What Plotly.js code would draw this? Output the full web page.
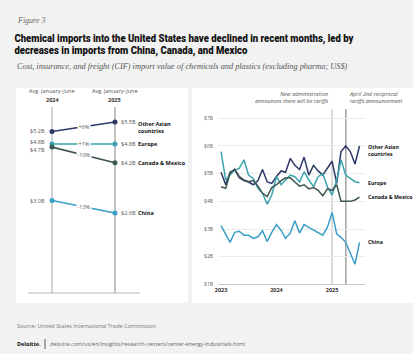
<!DOCTYPE html>
<html>
<head>
<meta charset="utf-8">
<script src="https://cdn.plot.ly/plotly-3.0.1.min.js"></script>
<style>
  html, body { margin: 0; padding: 0; background: #f2f2f2; }
  #chart { width: 413px; height: 354px; }
</style>
</head>
<body>
<div id="chart"></div>
<script>
const W = 413, H = 354;

// Slope chart: average January–June import value (US$ billions)
const regionLabels = ['Other Asian<br>countries', 'Europe', 'Canada &amp; Mexico', 'China'];
const avg2024 = [5.2, 4.8, 4.7, 3.0];
const avg2025 = [5.5, 4.8, 4.2, 2.6];
const changeLabels = ['+6%', '+1%', '-10%', '-13%'];
const periodLabels = ['2024', '2025'];

// Monthly import value (US$ billions), January 2023 – July 2025
const months = [
  '2023-01-01','2023-02-01','2023-03-01','2023-04-01','2023-05-01','2023-06-01',
  '2023-07-01','2023-08-01','2023-09-01','2023-10-01','2023-11-01','2023-12-01',
  '2024-01-01','2024-02-01','2024-03-01','2024-04-01','2024-05-01','2024-06-01',
  '2024-07-01','2024-08-01','2024-09-01','2024-10-01','2024-11-01','2024-12-01',
  '2025-01-01','2025-02-01','2025-03-01','2025-04-01','2025-05-01','2025-06-01',
  '2025-07-01'
];
const otherAsia = [5.05, 4.6, 5.05, 5.15, 4.85, 4.75, 4.7, 4.6, 4.75, 5.15, 4.7, 4.65,
                   4.9, 5.1, 5.05, 5.55, 5.3, 5.15, 5.6, 4.95, 5.3, 5.1, 4.95, 5.2,
                   5.45, 4.65, 5.8, 6.0, 5.8, 5.35, 6.0];
const europe = [5.8, 4.77, 4.95, 5.13, 5.19, 5.5, 4.95, 4.83, 4.47, 4.29, 3.9, 4.23,
                4.89, 4.6, 4.77, 4.95, 4.89, 4.7, 5.07, 4.77, 4.53, 4.89, 5.0, 4.53,
                4.23, 4.77, 5.5, 4.95, 4.83, 4.71, 4.67];
const canadaMexico = [4.53, 4.47, 5.01, 5.16, 4.9, 4.77, 4.71, 4.75, 4.55, 4.3, 4.17, 4.5,
                      4.6, 4.75, 4.85, 4.85, 4.7, 4.55, 4.6, 4.45, 4.5, 4.4, 4.2, 4.45,
                      4.4, 4.6, 4.0, 4.0, 4.0, 4.05, 4.15];
const china = [3.12, 2.82, 2.52, 2.88, 2.92, 2.78, 2.78, 2.66, 2.72, 2.94, 2.55, 2.88,
               3.16, 2.95, 2.67, 2.85, 3.30, 2.86, 3.16, 3.06, 2.96, 2.88, 2.78, 3.06,
               3.60, 2.82, 2.70, 2.52, 2.16, 1.73, 2.52];

const yTickVals = [1, 2, 3, 4, 5, 6, 7];
const yTickText = ['$1B', '$2B', '$3B', '$4B', '$5B', '$6B', '$7B'];
const xTickVals = ['2023-01-01', '2024-01-01', '2025-01-01'];
const xTickText = ['2023', '2024', '2025'];

const events = [
  { date: '2025-01-01', text: 'New administration<br>announces there will be tariffs', side: 'right', color: '#c4c4c4' },
  { date: '2025-04-02', text: 'April 2nd reciprocal<br>tariffs announcement', side: 'left', color: '#8a8a8a' }
];

const titleLines = [
  'Chemical imports into the United States have declined in recent months, led by',
  'decreases in imports from China, Canada, and Mexico'
];

const colors = ['#2c3866', '#3aa3ad', '#3d5553', '#3a9fc6'];
const monthly = [otherAsia, europe, canadaMexico, china];

// pixel -> paper helpers
const px = x => x / W;
const py = y => 1 - y / H;

const SANS = 'Open Sans, Liberation Sans, sans-serif';
const SERIF = 'Liberation Serif, DejaVu Serif, serif';

const traces = [];

// left slope chart
for (let i = 0; i < avg2024.length; i++) {
  traces.push({
    x: [0, 1], y: [avg2024[i], avg2025[i]],
    xaxis: 'x', yaxis: 'y',
    mode: 'lines+markers', type: 'scatter',
    line: { color: colors[i], width: 1.6 },
    marker: { color: colors[i], size: 5 },
    hoverinfo: 'skip', showlegend: false
  });
}

// right monthly lines
for (let i = 0; i < monthly.length; i++) {
  traces.push({
    x: months, y: monthly[i],
    xaxis: 'x2', yaxis: 'y2',
    mode: 'lines', type: 'scatter',
    line: { color: colors[i], width: 1.5 },
    hoverinfo: 'skip', showlegend: false
  });
}

const annotations = [];
function textAt(text, x, y, o = {}) {
  annotations.push(Object.assign({
    text, x: px(x), y: py(y), xref: 'paper', yref: 'paper',
    xanchor: 'left', yanchor: 'middle', showarrow: false, align: 'left',
    font: { family: SANS, size: 6, color: '#555' }
  }, o));
}

// heading
textAt('Figure 3', 15, 21, { font: { family: SERIF, size: 8, color: '#666', style: 'italic' } });
const TITLE_FONT = { family: 'Roboto, Open Sans, sans-serif', size: 11, color: '#111', weight: 900 };
// title lines are centred on their span and then fitted to it (see fitTitle below)
const titleSpans = [[14, 353], [14, 247]];
titleLines.forEach((t, k) => {
  const [a, b] = titleSpans[k];
  textAt(t, (a + b) / 2, 38 + 12 * k, { xanchor: 'center', align: 'center', font: TITLE_FONT });
});
textAt('Cost, insurance, and freight (CIF) import value of chemicals and plastics (excluding pharma; US$)', 15, 67,
  { font: { family: SERIF, size: 8.3, color: '#555', style: 'italic' } });

// slope chart headers
periodLabels.forEach((p, k) => {
  annotations.push({ text: 'Avg. January–June', x: k, y: py(91), xref: 'x', yref: 'paper',
    xanchor: 'center', yanchor: 'middle', showarrow: false,
    font: { family: SANS, size: 5.5, color: '#555' } });
  annotations.push({ text: '<b>' + p + '</b>', x: k, y: py(100), xref: 'x', yref: 'paper',
    xanchor: 'center', yanchor: 'middle', showarrow: false,
    font: { family: SANS, size: 5.5, color: '#333' } });
});

// slope chart value, change and region labels
const leftShift = [0, 1.5, -3, 0];
for (let i = 0; i < avg2024.length; i++) {
  annotations.push({ text: '$' + avg2024[i].toFixed(1) + 'B', x: 0, y: avg2024[i], xref: 'x', yref: 'y',
    xanchor: 'right', yanchor: 'middle', xshift: -5, yshift: leftShift[i], showarrow: false,
    font: { family: SANS, size: 5.5, color: '#555' } });
  annotations.push({ text: '$' + avg2025[i].toFixed(1) + 'B', x: 1, y: avg2025[i], xref: 'x', yref: 'y',
    xanchor: 'left', yanchor: 'middle', xshift: 4, showarrow: false,
    font: { family: SANS, size: 5.5, color: '#555' } });
  annotations.push({ text: '<b>' + regionLabels[i] + '</b>', x: 1, y: avg2025[i], xref: 'x', yref: 'y',
    xanchor: 'left', yanchor: i === 0 ? 'top' : 'middle', yshift: i === 0 ? 4.5 : 0, xshift: 21,
    showarrow: false, align: 'left',
    font: { family: SANS, size: 5.5, color: '#111' } });
  annotations.push({ text: changeLabels[i], x: 0.5, y: (avg2024[i] + avg2025[i]) / 2, xref: 'x', yref: 'y',
    xanchor: 'center', yanchor: 'middle', showarrow: false, bgcolor: '#ffffff', borderpad: 0.5,
    font: { family: SANS, size: 5.5, color: '#555' } });
}

// monthly chart end labels
for (let i = 0; i < monthly.length; i++) {
  const last = monthly[i][monthly[i].length - 1];
  annotations.push({ text: '<b>' + regionLabels[i] + '</b>', x: months[months.length - 1], y: last,
    xref: 'x2', yref: 'y2', xanchor: 'left', yanchor: i === 0 ? 'top' : 'middle',
    yshift: i === 0 ? 4.5 : 0, xshift: 6, showarrow: false, align: 'left',
    font: { family: SANS, size: 5.2, color: '#111' } });
}

// event notes
events.forEach(ev => {
  annotations.push({ text: ev.text, x: ev.date, y: py(88), xref: 'x2', yref: 'paper',
    xanchor: ev.side, yanchor: 'top', xshift: ev.side === 'right' ? -1 : 1, showarrow: false,
    align: ev.side, font: { family: SANS, size: 5.5, color: '#555', style: 'italic' } });
});

// footer
textAt('Source: United States International Trade Commission.', 15, 326, { font: { family: SANS, size: 5.5, color: '#777' } });
textAt('<b>Deloitte.</b>', 15, 344, { font: { family: SANS, size: 5.5, color: '#111' } });
textAt('deloitte.com/us/en/insights/research-centers/center-energy-industrials.html', 48, 344,
  { font: { family: SANS, size: 5.5, color: '#666' } });

const shapes = [
  // panels
  { type: 'rect', xref: 'paper', yref: 'paper', x0: px(16), x1: px(188), y0: py(303), y1: py(88),
    fillcolor: '#ffffff', line: { width: 0 }, layer: 'below' },
  { type: 'rect', xref: 'paper', yref: 'paper', x0: px(192), x1: px(413), y0: py(303), y1: py(88),
    fillcolor: '#ffffff', line: { width: 0 }, layer: 'below' },
  // slope chart axes
  { type: 'line', xref: 'x', yref: 'paper', x0: 0, x1: 0, y0: py(293), y1: py(107),
    line: { color: '#b5b5b5', width: 1.2 }, layer: 'below' },
  { type: 'line', xref: 'x', yref: 'paper', x0: 1, x1: 1, y0: py(293), y1: py(107),
    line: { color: '#9a9a9a', width: 1.2 }, layer: 'below' },
  { type: 'line', xref: 'paper', yref: 'paper', x0: px(28), x1: px(140), y0: py(293), y1: py(293),
    line: { color: '#b5b5b5', width: 1 }, layer: 'below' },
  // footer divider
  { type: 'line', xref: 'paper', yref: 'paper', x0: px(45), x1: px(45), y0: py(349), y1: py(339),
    line: { color: '#333', width: 0.8 } }
];
events.forEach(ev => {
  shapes.push({ type: 'line', xref: 'x2', yref: 'paper', x0: ev.date, x1: ev.date,
    y0: py(285), y1: py(109), line: { color: ev.color, width: 1.2 }, layer: 'below' });
});

const layout = {
  width: W, height: H,
  margin: { l: 0, r: 0, t: 0, b: 0, pad: 0 },
  paper_bgcolor: '#f2f2f2', plot_bgcolor: 'rgba(0,0,0,0)',
  showlegend: false,
  xaxis: { domain: [px(28), px(140)], range: [-0.381, 1.397], visible: false, fixedrange: true },
  yaxis: { domain: [py(293), py(108)], range: [0.054, 5.946], visible: false, fixedrange: true },
  xaxis2: {
    type: 'date', anchor: 'y2', domain: [px(218), px(365)],
    range: ['2022-12-12', '2025-08-06'],
    tickmode: 'array', tickvals: xTickVals, ticktext: xTickText,
    showgrid: false, zeroline: false, showline: true, linecolor: '#c8c8c8', linewidth: 1,
    ticks: '', tickfont: { family: SANS, size: 5.5, color: '#333', weight: 700 }
  },
  yaxis2: {
    anchor: 'x2', domain: [py(284.4), py(112)], range: [1, 7.228],
    tickmode: 'array', tickvals: yTickVals, ticktext: yTickText,
    showgrid: true, gridcolor: '#ebebeb', gridwidth: 1, zeroline: false, showline: false,
    ticks: '', ticklabelstandoff: 4, tickfont: { family: SANS, size: 5, color: '#666' }
  },
  shapes, annotations
};

// squeeze each heading line into its span (the heading face is a condensed one)
function fitTitle(gd) {
  gd.querySelectorAll('text.annotation-text').forEach(t => {
    const k = titleLines.indexOf(t.textContent);
    if (k < 0) return;
    const [a, b] = titleSpans[k];
    t.setAttribute('text-anchor', 'middle');
    t.setAttribute('textLength', b - a);
    t.setAttribute('lengthAdjust', 'spacingAndGlyphs');
  });
}

Plotly.newPlot('chart', traces, layout, { staticPlot: true, displayModeBar: false }).then(fitTitle);
</script>
</body>
</html>
